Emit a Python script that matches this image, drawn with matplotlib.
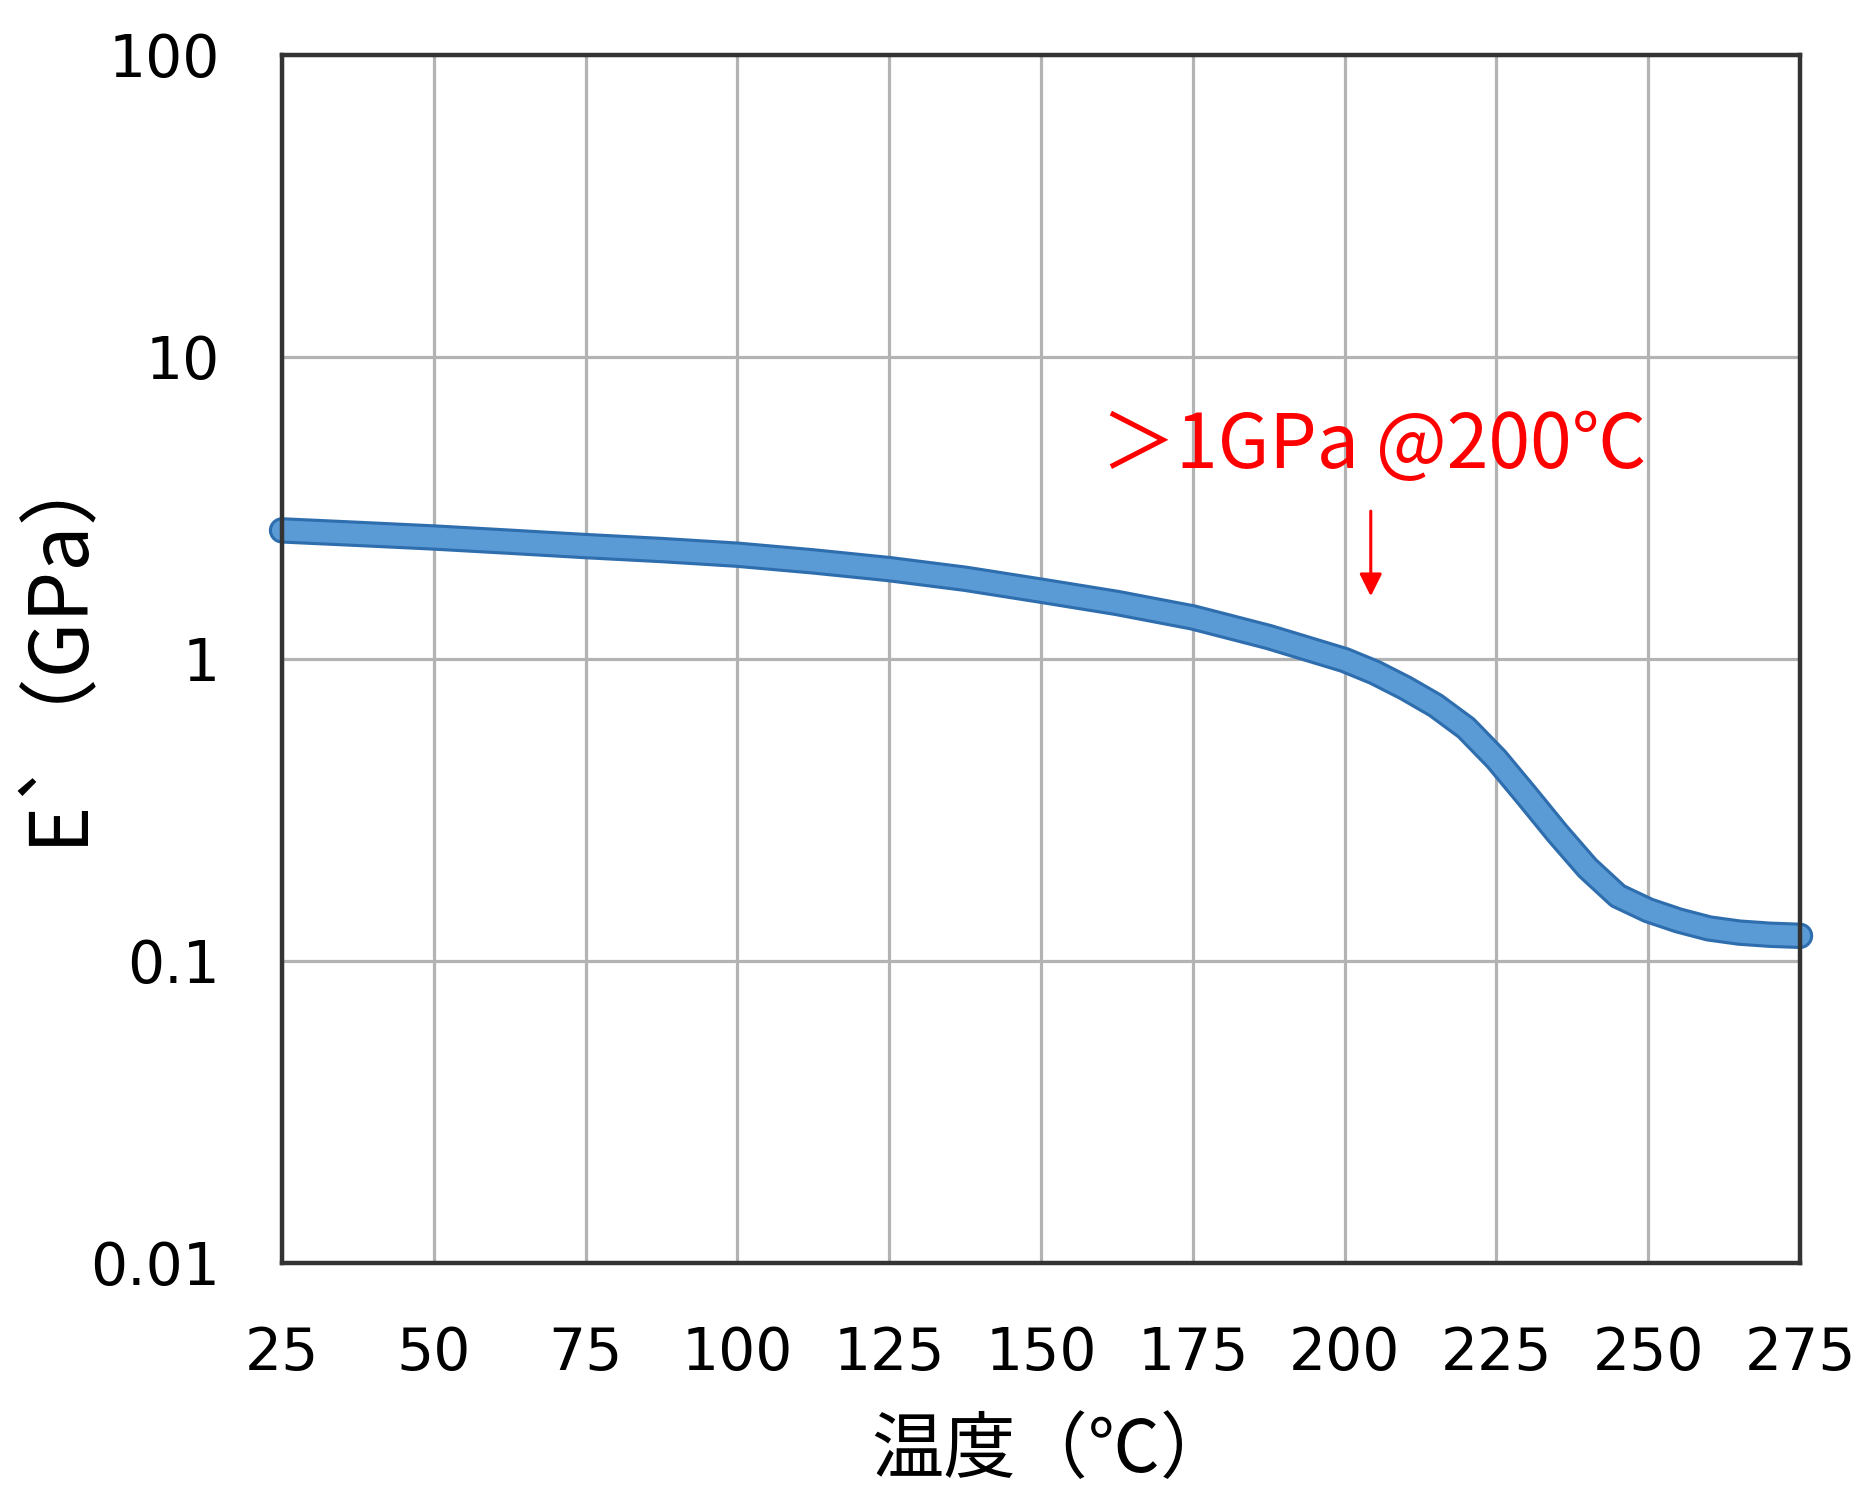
"""Storage modulus E' vs temperature (log scale), with 200 degC callout."""

import matplotlib
matplotlib.use("Agg")
import matplotlib.pyplot as plt

# --- data ---
temps = [25, 37.5, 50, 62.5, 75, 87.5, 100, 112.5, 125, 137.5, 150, 162.5,
         175, 187.5, 200, 205, 210, 215, 220, 225, 230, 235, 240, 245, 250,
         255, 260, 265, 270, 275]
modulus = [2.66, 2.59, 2.52, 2.44, 2.36, 2.29, 2.21, 2.10, 1.98, 1.84, 1.68,
           1.53, 1.37, 1.18, 0.99, 0.90, 0.80, 0.70, 0.59, 0.465, 0.352, 0.265,
           0.203, 0.164, 0.147, 0.136, 0.128, 0.124, 0.122, 0.121]

x_ticks = [25, 50, 75, 100, 125, 150, 175, 200, 225, 250, 275]
y_ticks = [0.01, 0.1, 1, 10, 100]
y_tick_labels = ["0.01", "0.1", "1", "10", "100"]

note_text = "＞1GPa @200℃"
note_xy = (159.8, 4.28)
arrow_start = (204.3, 3.08)
arrow_end = (204.3, 1.61)

CJK = ["Noto Sans CJK JP", "DejaVu Sans"]

fig = plt.figure(figsize=(18.59, 14.87), dpi=100)
ax = fig.add_axes([0.1517, 0.1507, 0.8166, 0.8126])

ax.set_yscale("log")
ax.set_xlim(25, 275)
ax.set_ylim(0.01, 100)

# grid
ax.set_xticks(x_ticks)
ax.set_yticks(y_ticks)
ax.set_yticklabels(y_tick_labels)
ax.minorticks_off()
ax.grid(True, color="#b3b3b3", linewidth=2.3)
ax.set_axisbelow(True)

for side in ax.spines.values():
    side.set_color("#333333")
    side.set_linewidth(3.2)

ax.tick_params(length=0, labelsize=42, colors="black")
ax.tick_params(axis="x", pad=45)
ax.tick_params(axis="y", pad=45)

# curve: darker edge under the lighter body
ax.plot(temps, modulus, color="#2f6eae", linewidth=19,
        solid_capstyle="round", solid_joinstyle="round", clip_on=False)
ax.plot(temps, modulus, color="#5b9bd5", linewidth=14.5,
        solid_capstyle="round", solid_joinstyle="round", clip_on=False)

# callout
ax.text(note_xy[0], note_xy[1], note_text, color="#ff0000", fontsize=54,
        family=CJK, ha="left", va="baseline")
ax.annotate("", xy=arrow_end, xytext=arrow_start,
            arrowprops=dict(arrowstyle="-|>", color="#ff0000", lw=2.2,
                            mutation_scale=34, shrinkA=0, shrinkB=0))

# axis titles
fig.text(58 / 1859, 1 - 640 / 1487, "E`（GPa）", rotation=90, fontsize=58,
         family=CJK, ha="center", va="center")
fig.text(1052 / 1859, 1 - 1452 / 1487, "温度（℃）", fontsize=52,
         family=CJK, ha="center", va="center")

fig.savefig("out.png", dpi=100)
